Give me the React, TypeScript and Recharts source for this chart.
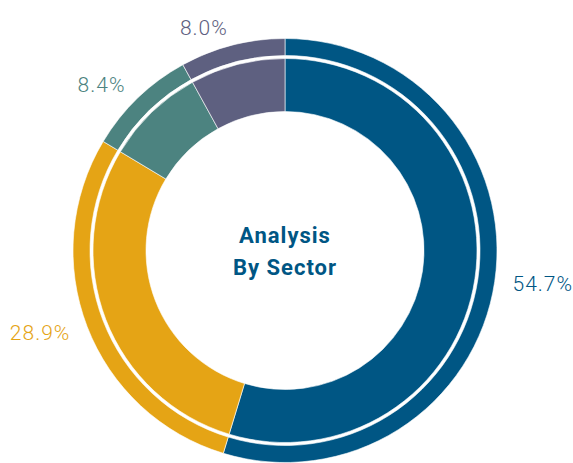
import { PieChart, Pie, Cell, Label } from "recharts";

const sectors = ["Sector 1", "Sector 2", "Sector 3", "Sector 4"];
const shares = [54.7, 28.9, 8.4, 8.0];

const COLORS = ["#005684", "#E5A415", "#4C8380", "#5E6080"];
const RADIAN = Math.PI / 180;
const CX = 285;
const CY = 250.5;

const chartData = sectors.map((name, i) => ({ name, value: shares[i] }));

function renderLabel(props: any) {
  const { cx, cy, midAngle, outerRadius, index, value } = props;
  const r = outerRadius + 18;
  const x = cx + Math.cos(-midAngle * RADIAN) * r;
  const y = cy + Math.sin(-midAngle * RADIAN) * r;
  return (
    <text
      x={x}
      y={y}
      fill={COLORS[index % COLORS.length]}
      textAnchor={x > cx ? "start" : "end"}
      dominantBaseline="central"
      fontFamily="Roboto"
      fontWeight={300}
      fontSize={21}
      letterSpacing={1}
    >
      {`${Number(value).toFixed(1)}%`}
    </text>
  );
}

function CenterTitle() {
  return (
    <text
      textAnchor="middle"
      fill="#005684"
      fontFamily="Roboto"
      fontWeight={700}
      fontSize={22}
      letterSpacing={1}
    >
      <tspan x={CX} y={CY - 8}>
        Analysis
      </tspan>
      <tspan x={CX} y={CY + 24}>
        By Sector
      </tspan>
    </text>
  );
}

export default function App() {
  return (
    <div style={{ position: "absolute", left: 0, top: 0, background: "#fff" }}>
      <PieChart width={573} height={463} margin={{ top: 0, right: 0, bottom: 0, left: 0 }}>
        <Pie
          data={chartData}
          dataKey="value"
          cx={CX}
          cy={CY}
          startAngle={90}
          endAngle={-270}
          innerRadius={139}
          outerRadius={192}
          stroke="#fff"
          strokeWidth={0.6}
          isAnimationActive={false}
        >
          {chartData.map((d, i) => (
            <Cell key={d.name} fill={COLORS[i % COLORS.length]} />
          ))}
          <Label position="center" content={CenterTitle} />
        </Pie>
        <Pie
          data={chartData}
          dataKey="value"
          cx={CX}
          cy={CY}
          startAngle={90}
          endAngle={-270}
          innerRadius={195}
          outerRadius={212}
          stroke="#fff"
          strokeWidth={0.6}
          label={renderLabel}
          labelLine={false}
          isAnimationActive={false}
        >
          {chartData.map((d, i) => (
            <Cell key={d.name} fill={COLORS[i % COLORS.length]} />
          ))}
        </Pie>
      </PieChart>
    </div>
  );
}
